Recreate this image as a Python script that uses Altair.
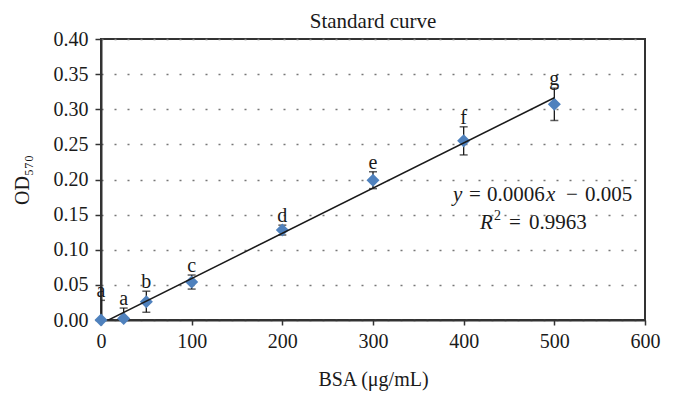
import altair as alt
import pandas as pd

# BSA standard curve, OD570 readings with SD and group letters
bsa = [0, 25, 50, 100, 200, 300, 400, 500]
od = [0.000, 0.002, 0.026, 0.054, 0.128, 0.199, 0.255, 0.307]
sd = [0.028, 0.015, 0.015, 0.010, 0.007, 0.012, 0.020, 0.023]
groups = ['a', 'a', 'b', 'c', 'd', 'e', 'f', 'g']

x_ticks = [0, 100, 200, 300, 400, 500, 600]
y_ticks = [0.0, 0.05, 0.10, 0.15, 0.20, 0.25, 0.30, 0.35, 0.40]

FONT = 'Liberation Serif'
INK = '#1a1a1a'
BLUE = '#4F81BD'

df = pd.DataFrame({'bsa': bsa, 'od': od, 'sd': sd, 'group': groups})
df['lo'] = df['od'] - df['sd']
df['hi'] = df['od'] + df['sd']

x_scale = alt.Scale(domain=[0, 600], nice=False)
x_axis = alt.Axis(values=x_ticks, grid=False, tickSize=5, labelFlush=False,
                  labelOverlap=False, labelPadding=6, titlePadding=18)
y_scale = alt.Scale(domain=[0, 0.40], nice=False)
y_axis = alt.Axis(values=y_ticks, format='.2f', grid=True, tickSize=6,
                  labelFlush=False, labelOverlap=False,
                  labelPadding=7, titlePadding=21)


def xq(field):
    return alt.X(field, title='BSA (μg/mL)', scale=x_scale, axis=x_axis)


def yq(field):
    return alt.Y(field, title='OD₅₇₀', scale=y_scale, axis=y_axis)


base = alt.Chart(df)

bars = base.mark_rule(color=INK, strokeWidth=1.3, clip=True).encode(
    x=xq('bsa:Q'), y=yq('lo:Q'), y2='hi:Q'
)

caps_hi = base.mark_tick(color=INK, size=8, thickness=1.5, orient='horizontal', clip=True).encode(
    x=xq('bsa:Q'), y=yq('hi:Q')
)
caps_lo = base.mark_tick(color=INK, size=8, thickness=1.5, orient='horizontal', clip=True).encode(
    x=xq('bsa:Q'), y=yq('lo:Q')
)

points = base.mark_point(shape='diamond', filled=True, size=170, color=BLUE, opacity=1).encode(
    x=xq('bsa:Q'), y=yq('od:Q')
)

letters = base.mark_text(font=FONT, fontSize=20, color=INK, baseline='alphabetic', dy=-3).encode(
    x=xq('bsa:Q'), y=yq('hi:Q'), text='group:N'
)

# linear trendline, Excel style, clipped below zero
fit = base.transform_regression('bsa', 'od', method='linear', extent=[0, 500]).mark_line(
    color=INK, strokeWidth=1.5, clip=True
).encode(x=xq('bsa:Q'), y=yq('od:Q'))


def piece(txt, x, y, italic=False, size=21, align='left'):
    # one bit of free text, placed in plot pixels
    return alt.Chart(pd.DataFrame({'k': [0]})).mark_text(
        text=txt, align=align, baseline='alphabetic', font=FONT, fontSize=size,
        fontStyle='italic' if italic else 'normal', color=INK
    ).encode(x=alt.value(x), y=alt.value(y))


equation = alt.layer(
    piece('y', 352, 161.5, italic=True),
    piece('=', 368, 161.5),
    piece('0.0006', 386, 161.5),
    piece('x', 445, 161.5, italic=True),
    piece('−', 465, 161.5),
    piece('0.005', 484, 161.5),
    piece('R', 379, 189.5, italic=True),
    piece('2', 393, 181, size=14),
    piece('=', 408, 189.5),
    piece('0.9963', 428, 189.5),
)

title = piece('Standard curve', 272, -11, size=21, align='center')

chart = alt.layer(bars, caps_hi, caps_lo, points, letters, fit, equation, title).properties(
    width=544,
    height=281,
    autosize=alt.AutoSizeParams(type='none'),
    padding={'left': 93, 'top': 31, 'right': 21, 'bottom': 74}
).configure_axis(
    labelFont=FONT, labelFontSize=20, labelColor=INK,
    titleFont=FONT, titleFontSize=20, titleFontWeight='normal', titleColor=INK,
    domainColor='#333', domainWidth=2, tickColor='#333', tickWidth=1.5,
    gridColor='#777', gridDash=[2, 11], gridWidth=1.3
).configure_view(
    stroke='#333', strokeWidth=2
)

chart.save('out.html', embed_options={'renderer': 'svg', 'actions': False})
